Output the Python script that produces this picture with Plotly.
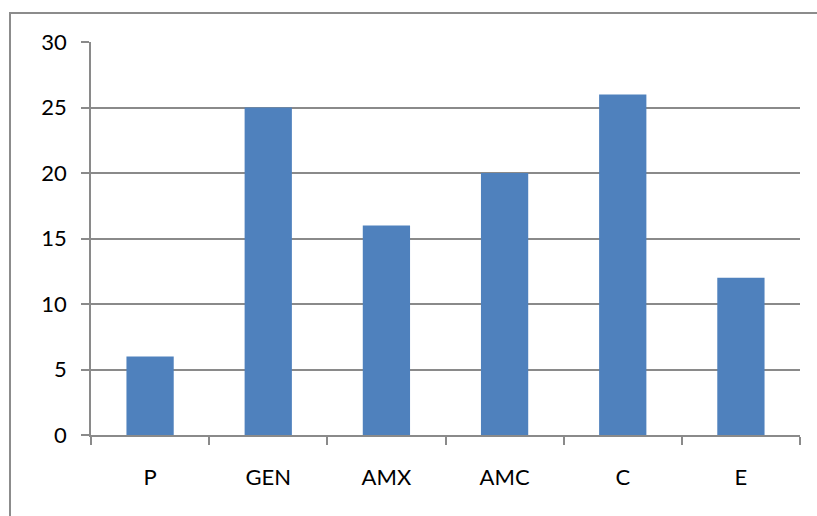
import plotly.graph_objects as go

categories = ["P", "GEN", "AMX", "AMC", "C", "E"]
values = [6, 25, 16, 20, 26, 12]
y_ticks = [0, 5, 10, 15, 20, 25, 30]

W, H = 817, 516
L, R, T, B = 91, 17, 42, 81
plot_w = W - L - R
plot_h = H - T - B

fig = go.Figure(
    go.Bar(
        x=categories,
        y=values,
        marker=dict(color="#4F81BD", line=dict(width=0)),
        width=0.4,
    )
)

grid_col = "#8a8a8a"
fig.update_layout(
    width=W,
    height=H,
    margin=dict(l=L, r=R, t=T, b=B, pad=0),
    paper_bgcolor="white",
    plot_bgcolor="white",
    showlegend=False,
    font=dict(family="Lato, Carlito, sans-serif", size=22, color="black"),
    bargap=0.6,
)

fig.update_xaxes(
    type="category",
    showline=True,
    linecolor=grid_col,
    linewidth=1.5,
    ticks="outside",
    tickson="boundaries",
    ticklen=8,
    tickcolor=grid_col,
    tickwidth=1.5,
    showgrid=False,
    ticklabelstandoff=22,
)

fig.update_yaxes(
    range=[0, 30],
    tickvals=y_ticks,
    showline=True,
    linecolor=grid_col,
    linewidth=1.5,
    ticks="outside",
    ticklen=8,
    tickcolor=grid_col,
    tickwidth=1.5,
    showgrid=True,
    gridcolor=grid_col,
    gridwidth=1.5,
    zeroline=False,
    ticklabelstandoff=10,
)

# Outer chart frame (left and top edges visible; right and bottom run off the page)
x_left = (10 - L) / plot_w
y_top = (H - B - 13) / plot_h
fig.add_shape(
    type="rect",
    xref="paper",
    yref="paper",
    x0=x_left,
    x1=1.3,
    y0=-0.5,
    y1=y_top,
    line=dict(color="#8c8c8c", width=2),
    fillcolor="rgba(0,0,0,0)",
    layer="below",
)

fig.write_html("out.html")
